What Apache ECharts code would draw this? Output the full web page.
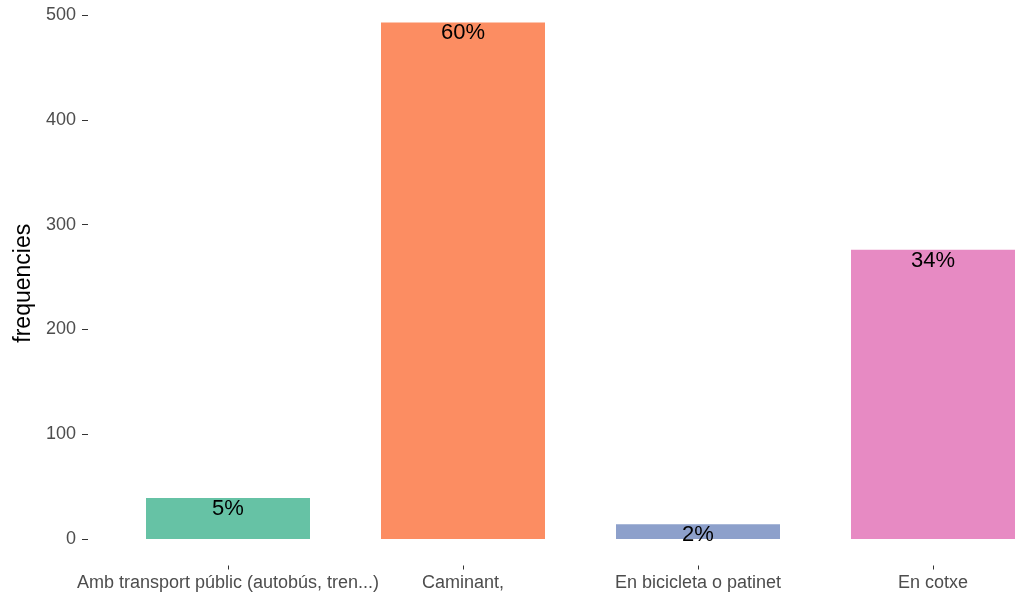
<!DOCTYPE html>
<html>
<head>
<meta charset="utf-8">
<script src="https://cdn.jsdelivr.net/npm/echarts@6/dist/echarts.min.js"></script>
<style>html,body{margin:0;padding:0;background:#fff}#c{width:1016px;height:599px}</style>
</head>
<body>
<div id="c"></div>
<script>
const categories = ['Amb transport públic (autobús, tren...)', 'Caminant,', 'En bicicleta o patinet', 'En cotxe'];
const counts = [39, 493, 14, 276];
const percentLabels = ['5%', '60%', '2%', '34%'];
const barColors = ['#66C2A5', '#FC8D62', '#8DA0CB', '#E78AC3'];
const yTicks = [0, 100, 200, 300, 400, 500];

const chart = echarts.init(document.getElementById('c'), null, {renderer: 'canvas'});
const FONT = 'Liberation Sans, Arial, sans-serif';
chart.setOption({
  animation: false,
  grid: {left: 110.5, width: 940, top: 1, height: 564.5, containLabel: false, outerBoundsMode: 'none'},
  xAxis: {
    type: 'category',
    data: categories,
    axisLine: {show: false, onZero: false},
    axisTick: {show: true, alignWithLabel: true, length: 4, lineStyle: {color: '#333333', width: 1}},
    axisLabel: {color: '#4D4D4D', fontSize: 18, fontFamily: FONT, margin: 9, interval: 0},
    splitLine: {show: false}
  },
  yAxis: {
    type: 'value',
    min: -25.3,
    max: 513.4,
    offset: 22.5,
    name: 'frequencies',
    nameLocation: 'middle',
    nameRotate: 90,
    nameGap: 42,
    nameTextStyle: {color: '#000000', fontSize: 23, fontFamily: FONT},
    axisLine: {show: false},
    axisTick: {show: true, length: 6, lineStyle: {color: '#333333', width: 1},
      customValues: yTicks},
    axisLabel: {color: '#4D4D4D', fontSize: 18, fontFamily: FONT, margin: 12,
      customValues: yTicks},
    splitLine: {show: false}
  },
  series: [{
    type: 'bar',
    barWidth: 164,
    data: counts.map((v, i) => ({value: v, itemStyle: {color: barColors[i]}})),
    label: {
      show: true,
      position: 'insideTop',
      distance: 0,
      color: '#000000',
      fontSize: 22,
      fontFamily: FONT,
      formatter: p => percentLabels[p.dataIndex]
    }
  }]
});
</script>
</body>
</html>
